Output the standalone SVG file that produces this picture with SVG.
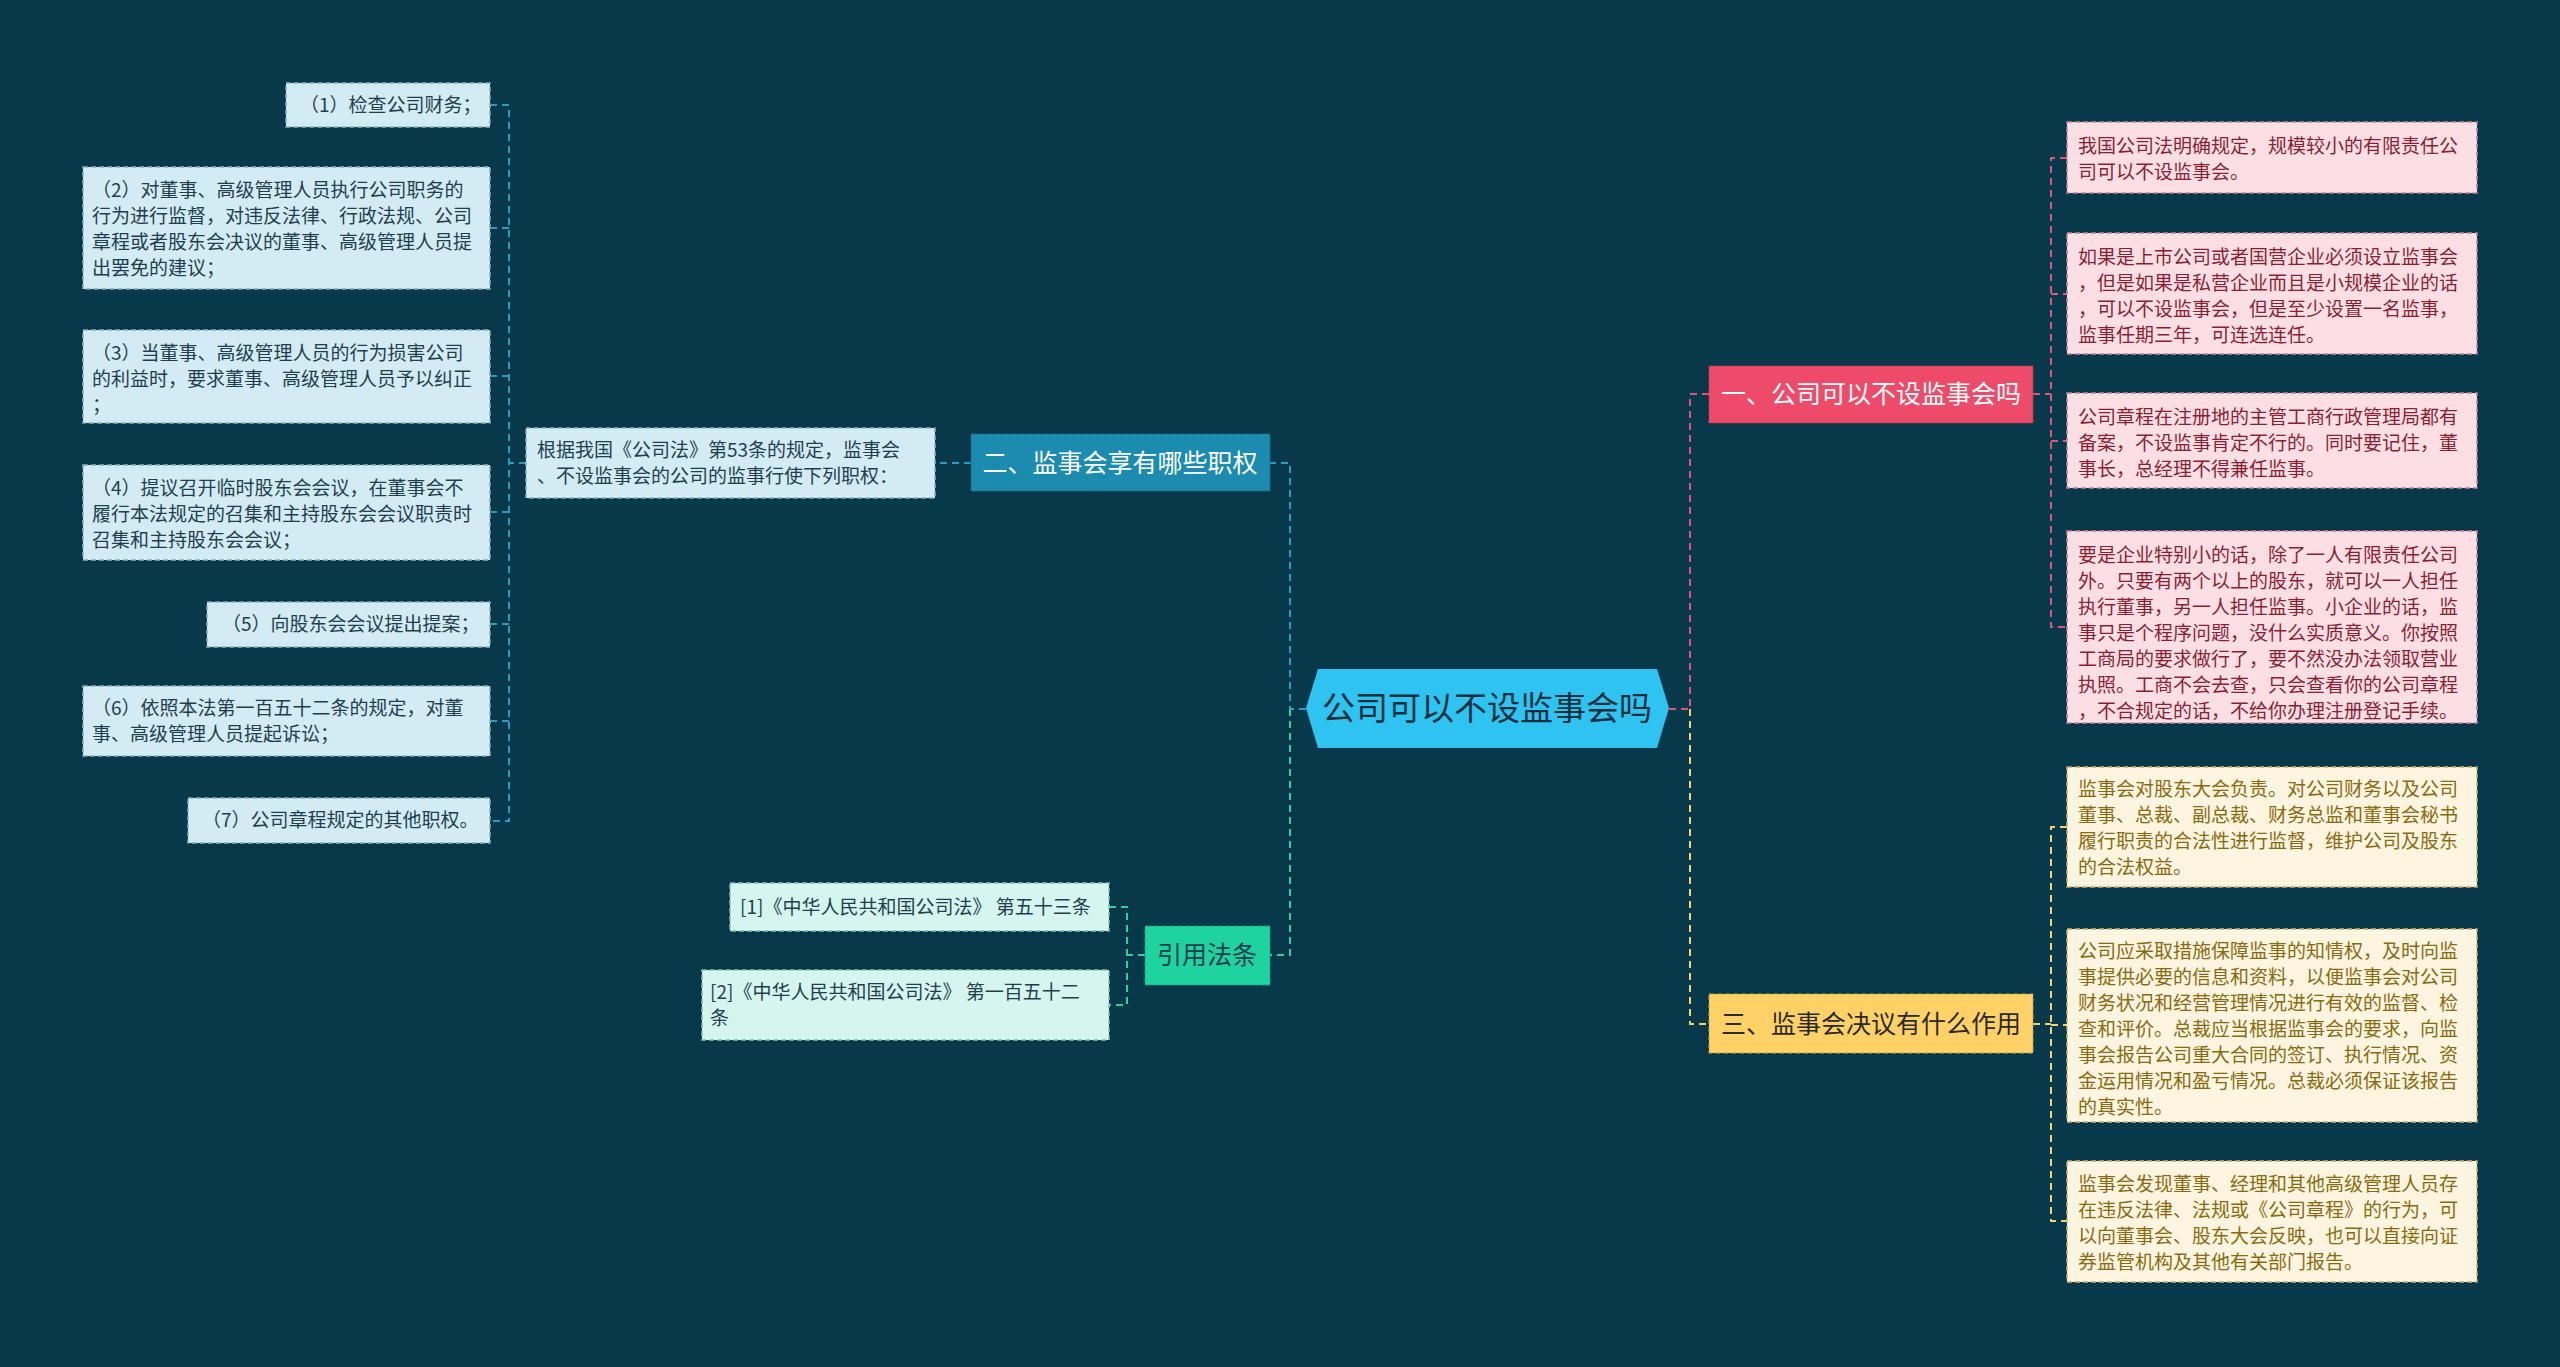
<svg xmlns="http://www.w3.org/2000/svg" width="2560" height="1367" viewBox="0 0 2560 1367">
<style>
text{font-family:"Noto Sans CJK SC","Liberation Sans",sans-serif}
.lf{font-size:19px}
.bl rect{fill:#d3ebf2;stroke:#8ab0bd;stroke-width:1.5;stroke-dasharray:5 3}
.bl text{fill:#1f3f4f}
.pk rect{fill:#fcdfe5;stroke:#c78596;stroke-width:1.5;stroke-dasharray:5 3}
.pk text{fill:#8a1f33}
.yl rect{fill:#fdf5df;stroke:#c9ad6a;stroke-width:1.5;stroke-dasharray:5 3}
.yl text{fill:#8a6a10}
.gr rect{fill:#d5f5ee;stroke:#86bfb0;stroke-width:1.5;stroke-dasharray:5 3}
.gr text{fill:#1f3f4f}
.c path{fill:none;stroke-width:2;stroke-dasharray:7 5}
.h{font-size:25px}
</style>
<rect width="2560" height="1367" fill="#07394b"/>
<g class="c" id="connectors">
<path d="M1306 709H1290V463H1270" stroke="#2a9cc4"/>
<path d="M1290 709V955H1270" stroke="#2fd1a0"/>
<path d="M1669 709H1690V394H1709" stroke="#e05577"/>
<path d="M1690 709V1024H1709" stroke="#f3d36c"/>
<path d="M2033 394H2051M2067 158H2051V627H2067M2051 294H2067M2051 441H2067" stroke="#e05577"/>
<path d="M2033 1024H2051M2067 827H2051V1221H2067M2051 1025H2067" stroke="#f3d36c"/>
<path d="M971 463H935" stroke="#2a9cc4"/>
<path d="M526 463H509M490 105H509V821H490M509 228H490M509 376H490M509 512H490M509 624H490M509 721H490" stroke="#2a9cc4"/>
<path d="M1145 955H1127M1109 907H1127V1005H1109" stroke="#2fd1a0"/>
</g>
<g id="center"><path d="M1318 669H1657L1669 708L1657 748H1318L1306 708Z" fill="#2ec3f0"/><text x="1487" y="720" font-size="33" text-anchor="middle" fill="#0b2f3d">公司可以不设监事会吗</text></g>
<g id="n1"><rect x="1709" y="366" width="324" height="57" fill="#ee4b6a" stroke="#c23350" stroke-dasharray="5 3"/><text x="1871" y="403" class="h" text-anchor="middle" fill="#fff">一、公司可以不设监事会吗</text></g>
<g id="n2"><rect x="971" y="434" width="299" height="57" fill="#1b8bb0" stroke="#146d8a" stroke-dasharray="5 3"/><text x="1120" y="472" class="h" text-anchor="middle" fill="#fff">二、监事会享有哪些职权</text></g>
<g id="n3"><rect x="1709" y="994" width="324" height="59" fill="#ffd166" stroke="#c9a23d" stroke-dasharray="5 3"/><text x="1871" y="1033" class="h" text-anchor="middle" fill="#2a2a2a">三、监事会决议有什么作用</text></g>
<g id="n4"><rect x="1145" y="926" width="125" height="59" fill="#1ed3a0" stroke="#14a37a" stroke-dasharray="5 3"/><text x="1207" y="964" class="h" text-anchor="middle" fill="#1f3f4f">引用法条</text></g>

<g id="p1" class="pk lf"><rect x="2067" y="122" width="410" height="71"/><text x="2078" y="153">我国公司法明确规定，规模较小的有限责任公</text><text x="2078" y="179">司可以不设监事会。</text></g>
<g id="p2" class="pk lf"><rect x="2067" y="233" width="410" height="121"/><text x="2078" y="264">如果是上市公司或者国营企业必须设立监事会</text><text x="2078" y="290">，但是如果是私营企业而且是小规模企业的话</text><text x="2078" y="316">，可以不设监事会，但是至少设置一名监事，</text><text x="2078" y="342">监事任期三年，可连选连任。</text></g>
<g id="p3" class="pk lf"><rect x="2067" y="393" width="410" height="95"/><text x="2078" y="424">公司章程在注册地的主管工商行政管理局都有</text><text x="2078" y="450">备案，不设监事肯定不行的。同时要记住，董</text><text x="2078" y="476">事长，总经理不得兼任监事。</text></g>
<g id="p4" class="pk lf"><rect x="2067" y="531" width="410" height="192"/><text x="2078" y="562">要是企业特别小的话，除了一人有限责任公司</text><text x="2078" y="588">外。只要有两个以上的股东，就可以一人担任</text><text x="2078" y="614">执行董事，另一人担任监事。小企业的话，监</text><text x="2078" y="640">事只是个程序问题，没什么实质意义。你按照</text><text x="2078" y="666">工商局的要求做行了，要不然没办法领取营业</text><text x="2078" y="692">执照。工商不会去查，只会查看你的公司章程</text><text x="2078" y="718">，不合规定的话，不给你办理注册登记手续。</text></g>

<g id="y1" class="yl lf"><rect x="2067" y="767" width="410" height="120"/><text x="2078" y="796">监事会对股东大会负责。对公司财务以及公司</text><text x="2078" y="822">董事、总裁、副总裁、财务总监和董事会秘书</text><text x="2078" y="848">履行职责的合法性进行监督，维护公司及股东</text><text x="2078" y="874">的合法权益。</text></g>
<g id="y2" class="yl lf"><rect x="2067" y="929" width="410" height="193"/><text x="2078" y="958">公司应采取措施保障监事的知情权，及时向监</text><text x="2078" y="984">事提供必要的信息和资料，以便监事会对公司</text><text x="2078" y="1010">财务状况和经营管理情况进行有效的监督、检</text><text x="2078" y="1036">查和评价。总裁应当根据监事会的要求，向监</text><text x="2078" y="1062">事会报告公司重大合同的签订、执行情况、资</text><text x="2078" y="1088">金运用情况和盈亏情况。总裁必须保证该报告</text><text x="2078" y="1114">的真实性。</text></g>
<g id="y3" class="yl lf"><rect x="2067" y="1161" width="410" height="121"/><text x="2078" y="1191">监事会发现董事、经理和其他高级管理人员存</text><text x="2078" y="1217">在违反法律、法规或《公司章程》的行为，可</text><text x="2078" y="1243">以向董事会、股东大会反映，也可以直接向证</text><text x="2078" y="1269">券监管机构及其他有关部门报告。</text></g>

<g id="m" class="bl lf"><rect x="526" y="428" width="409" height="70"/><text x="537" y="457">根据我国《公司法》第53条的规定，监事会</text><text x="537" y="483">、不设监事会的公司的监事行使下列职权：</text></g>
<g id="b1" class="bl lf"><rect x="286" y="83" width="204" height="44"/><text x="300" y="112">（1）检查公司财务；</text></g>
<g id="b2" class="bl lf"><rect x="83" y="167" width="407" height="122"/><text x="92" y="197">（2）对董事、高级管理人员执行公司职务的</text><text x="92" y="223">行为进行监督，对违反法律、行政法规、公司</text><text x="92" y="249">章程或者股东会决议的董事、高级管理人员提</text><text x="92" y="275">出罢免的建议；</text></g>
<g id="b3" class="bl lf"><rect x="83" y="330" width="407" height="93"/><text x="92" y="360">（3）当董事、高级管理人员的行为损害公司</text><text x="92" y="386">的利益时，要求董事、高级管理人员予以纠正</text><text x="92" y="412">；</text></g>
<g id="b4" class="bl lf"><rect x="83" y="465" width="407" height="95"/><text x="92" y="495">（4）提议召开临时股东会会议，在董事会不</text><text x="92" y="521">履行本法规定的召集和主持股东会会议职责时</text><text x="92" y="547">召集和主持股东会会议；</text></g>
<g id="b5" class="bl lf"><rect x="207" y="602" width="283" height="45"/><text x="222" y="631">（5）向股东会会议提出提案；</text></g>
<g id="b6" class="bl lf"><rect x="83" y="686" width="407" height="70"/><text x="92" y="715">（6）依照本法第一百五十二条的规定，对董</text><text x="92" y="741">事、高级管理人员提起诉讼；</text></g>
<g id="b7" class="bl lf"><rect x="188" y="798" width="302" height="45"/><text x="202" y="827">（7）公司章程规定的其他职权。</text></g>

<g id="r1" class="gr lf"><rect x="730" y="883" width="379" height="48"/><text x="740" y="914">[1]《中华人民共和国公司法》 第五十三条</text></g>
<g id="r2" class="gr lf"><rect x="702" y="970" width="407" height="70"/><text x="710" y="999">[2]《中华人民共和国公司法》 第一百五十二</text><text x="710" y="1025">条</text></g>
</svg>
